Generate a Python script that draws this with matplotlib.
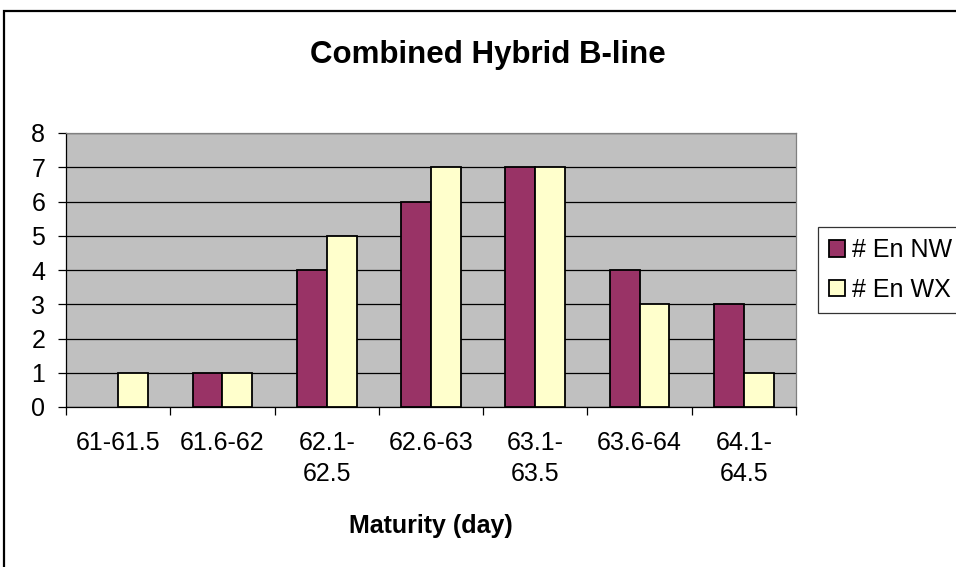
import matplotlib
matplotlib.use("Agg")
import matplotlib.pyplot as plt
import numpy as np
from matplotlib.patches import Rectangle

# Chart data
categories = ["61-61.5", "61.6-62", "62.1-\n62.5", "62.6-63", "63.1-\n63.5", "63.6-64", "64.1-\n64.5"]
en_nw = [0, 1, 4, 6, 7, 4, 3]
en_wx = [1, 1, 5, 7, 7, 3, 1]

plt.rcParams["font.family"] = ["Liberation Sans", "DejaVu Sans"]

fig = plt.figure(figsize=(9.56, 5.67), dpi=100)
W, H = 956, 567
ax = fig.add_axes([66 / W, 1 - 407 / H, 730 / W, 274 / H])
ax.set_facecolor("#C0C0C0")

x = np.arange(len(categories))
w = 1 / 3.5
b1 = ax.bar(x - w / 2, en_nw, w, color="#993366", edgecolor="black", linewidth=1.3, label="# En NW", zorder=3)
b2 = ax.bar(x + w / 2, en_wx, w, color="#FFFFCC", edgecolor="black", linewidth=1.3, label="# En WX", zorder=3)

ax.set_xlim(-0.5, len(categories) - 0.5)
ax.set_ylim(0, 8)
ax.set_yticks(range(9))
ax.yaxis.grid(True, color="black", linewidth=0.9, zorder=1)
ax.tick_params(axis="y", labelsize=18, length=6, width=0.9, pad=9)

ax.set_xticks(x)
ax.set_xticklabels(categories, fontsize=18, linespacing=1.4)
ax.set_xticks(np.arange(-0.5, len(categories)), minor=True)
ax.tick_params(axis="x", which="major", length=0, pad=17)
ax.tick_params(axis="x", which="minor", length=6, width=0.9)

for s in ["left", "bottom"]:
    ax.spines[s].set_color("black")
    ax.spines[s].set_linewidth(0.9)
for s in ["top", "right"]:
    ax.spines[s].set_color("#808080")
    ax.spines[s].set_linewidth(0.9)

fig.text(488 / W, 1 - 63 / H, "Combined Hybrid B-line", ha="center", va="baseline",
         fontsize=22.5, fontweight="bold")
fig.text(431 / W, 1 - 533 / H, "Maturity (day)", ha="center", va="baseline",
         fontsize=18, fontweight="bold")

leg = fig.legend(loc="upper left", bbox_to_anchor=(818 / W, 1 - 227 / H),
                 fontsize=18, fancybox=False, frameon=True, edgecolor="black",
                 handlelength=0.64, handleheight=0.64, handletextpad=0.25,
                 borderpad=0.45, labelspacing=0.62, borderaxespad=0)
leg.get_frame().set_linewidth(0.9)

# empty bins show nothing (after legend so handles keep their look)
for p in list(b1) + list(b2):
    if p.get_height() == 0:
        p.set_visible(False)

# outer chart frame (cropped on right and bottom)
fig.patches.append(Rectangle((4 / W, -0.05), 1.1, 1 - 11 / H + 0.05, transform=fig.transFigure,
                             fill=False, edgecolor="black", linewidth=1.6, clip_on=False))

fig.savefig("out.png", dpi=100)
